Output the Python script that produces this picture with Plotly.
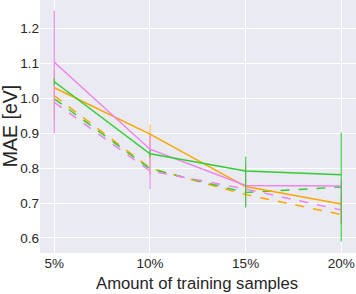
import plotly.graph_objects as go

x_vals = [5, 10, 15, 20]
x_labels = ["5%", "10%", "15%", "20%"]

pink_solid = [1.103, 0.854, 0.750, 0.749]
green_solid = [1.047, 0.841, 0.792, 0.781]
orange_solid = [1.030, 0.897, 0.747, 0.697]
orange_dash = [1.007, 0.800, 0.724, 0.667]
green_dash = [0.998, 0.798, 0.730, 0.746]
pink_dash = [0.988, 0.792, 0.740, 0.680]

pink_err_plus = [0.147, 0.04, 0.06, 0.015]
pink_err_minus = [0.203, 0.114, 0.06, 0.11]
green_err_plus = [0.01, 0.01, 0.041, 0.121]
green_err_minus = [0.01, 0.01, 0.105, 0.191]
orange_err_plus = [0.05, 0.028, 0.02, 0.025]
orange_err_minus = [0.09, 0.117, 0.02, 0.057]

PINK = "#ee82ee"
GREEN = "#32cd32"
ORANGE = "#ffa500"

fig = go.Figure()

def add(y, color, dash, ep=None, em=None, errcolor=None):
    kw = {}
    if ep is not None:
        kw["error_y"] = dict(type="data", symmetric=False, array=ep, arrayminus=em,
                             color=errcolor, thickness=1.3, width=0)
    fig.add_trace(go.Scatter(x=x_vals, y=y, mode="lines",
                             line=dict(color=color, width=1.5, dash=dash),
                             showlegend=False, **kw))

add(orange_dash, ORANGE, "dash")
add(green_dash, GREEN, "dash")
add(pink_dash, PINK, "dash")
add(orange_solid, ORANGE, "solid", orange_err_plus, orange_err_minus, "rgba(255,165,0,0.6)")
add(pink_solid, PINK, "solid", pink_err_plus, pink_err_minus, "rgba(238,130,238,0.85)")
add(green_solid, GREEN, "solid", green_err_plus, green_err_minus, "rgba(50,205,50,0.85)")

fig.update_layout(
    width=356, height=294,
    margin=dict(l=40, r=0, t=0, b=41, autoexpand=False),
    paper_bgcolor="white",
    plot_bgcolor="#eaeaf2",
    font=dict(family="Liberation Sans, Arial, sans-serif", color="#262626", size=13.5),
    xaxis=dict(range=[4.25, 20.77], tickvals=x_vals, ticktext=x_labels,
               showgrid=True, gridcolor="white", gridwidth=1, zeroline=False,
               automargin=False, ticklabeloverflow="allow",
               ticks="", tickfont=dict(size=13.5)),
    yaxis=dict(range=[0.557, 1.281], tickvals=[0.6, 0.7, 0.8, 0.9, 1.0, 1.1, 1.2],
               ticktext=["0.6", "0.7", "0.8", "0.9", "1.0", "1.1", "1.2"],
               showgrid=True, gridcolor="white", gridwidth=1, zeroline=False,
               automargin=False,
               ticks="", tickfont=dict(size=13.5)),
    annotations=[
        dict(text="Amount of training samples", xref="paper", yref="paper",
             x=0.497, y=-0.12, xanchor="center", yanchor="middle", showarrow=False,
             font=dict(size=16.7)),
        dict(text="MAE [eV]", xref="paper", yref="paper", textangle=-90,
             x=-0.096, y=0.5, xanchor="center", yanchor="middle", showarrow=False,
             font=dict(size=19.5)),
    ],
)

fig.write_html("out.html", post_script="document.body.style.margin='0';",
               config={"displayModeBar": False})
